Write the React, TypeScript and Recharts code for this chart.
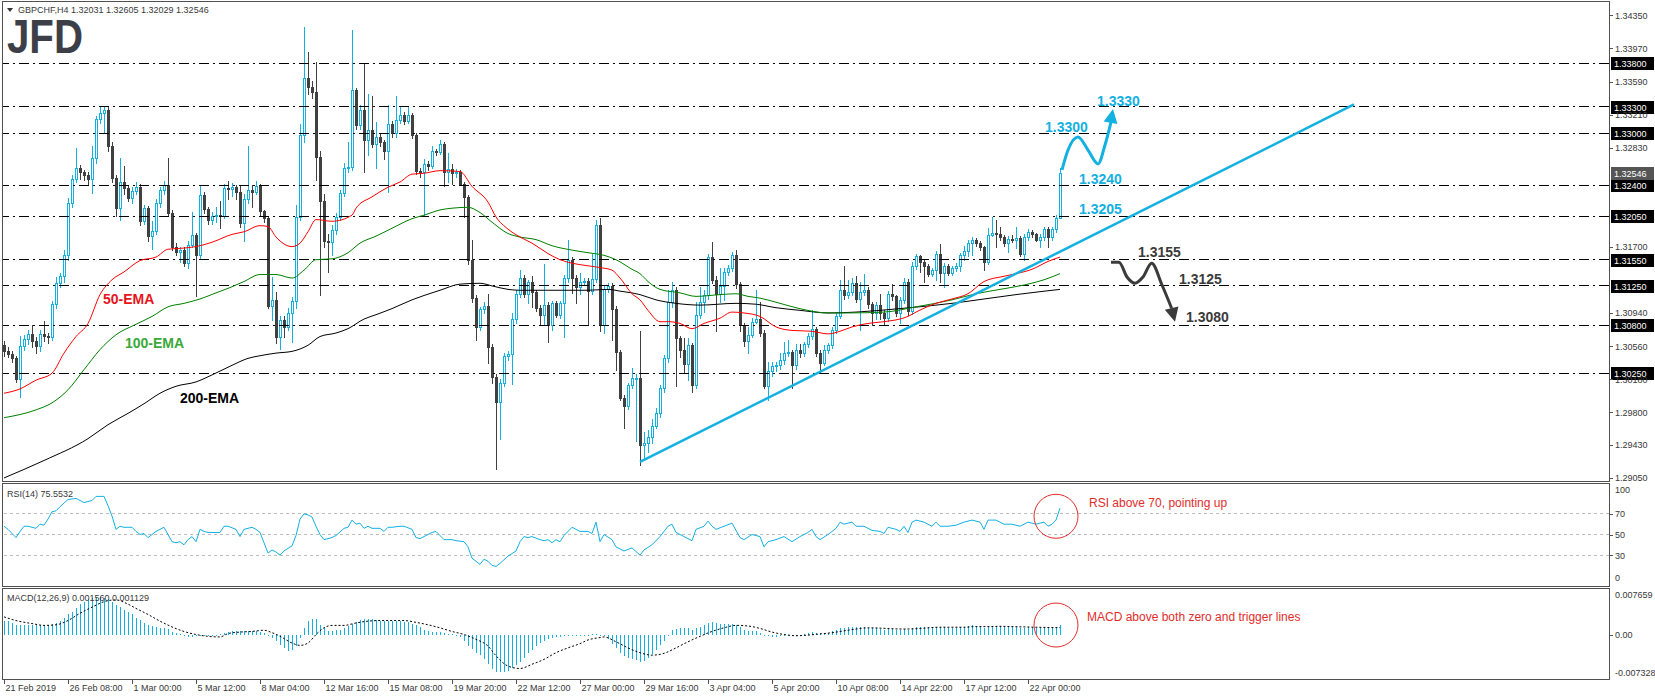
import React from "react";
import { ComposedChart, Bar, Line, XAxis, YAxis, ReferenceLine, ReferenceDot } from "recharts";

const FONT = "'Liberation Sans', Arial, sans-serif";
const CYAN = "#13b0e2";
const BEAR = "#404040";
const INK = "#383838";
const RED = "#e32b2b";

// GBPCHF H4 candles, oldest first. Open of a bar = close of the bar before it.
const firstOpen = 1.3057;
const closes = [
  1.3050, 1.3047, 1.3042, 1.3018, 1.3056, 1.3064, 1.3070, 1.3062, 1.3056, 1.3070,
  1.3068, 1.3066, 1.3104, 1.3128, 1.3136, 1.3160, 1.3220, 1.3247, 1.3260, 1.3255,
  1.3252, 1.3248, 1.3271, 1.3316, 1.3323, 1.3326, 1.3285, 1.3249, 1.3214, 1.3244,
  1.3237, 1.3226, 1.3234, 1.3238, 1.3199, 1.3214, 1.3182, 1.3188, 1.3220, 1.3235,
  1.3241, 1.3209, 1.3170, 1.3164, 1.3166, 1.3151, 1.3172, 1.3183, 1.3160, 1.3229,
  1.3213, 1.3201, 1.3205, 1.3206, 1.3205, 1.3237, 1.3236, 1.3238, 1.3232, 1.3197,
  1.3225, 1.3235, 1.3232, 1.3239, 1.3211, 1.3203, 1.3102, 1.3109, 1.3066, 1.3086,
  1.3078, 1.3094, 1.3108, 1.3204, 1.3298, 1.3363, 1.3353, 1.3347, 1.3273, 1.3222,
  1.3176, 1.3175, 1.3189, 1.3204, 1.3231, 1.3260, 1.3261, 1.3349, 1.3309, 1.3327,
  1.3292, 1.3304, 1.3288, 1.3296, 1.3290, 1.3279, 1.3310, 1.3300, 1.3315, 1.3321,
  1.3314, 1.3321, 1.3298, 1.3257, 1.3255, 1.3265, 1.3262, 1.3279, 1.3278, 1.3288,
  1.3256, 1.3259, 1.3254, 1.3256, 1.3242, 1.3227, 1.3155, 1.3111, 1.3078, 1.3098,
  1.3102, 1.3055, 1.3021, 1.2992, 1.3014, 1.3045, 1.3047, 1.3087, 1.3116, 1.3134,
  1.3116, 1.3129, 1.3118, 1.3100, 1.3092, 1.3103, 1.3080, 1.3105, 1.3092, 1.3105,
  1.3134, 1.3155, 1.3134, 1.3124, 1.3129, 1.3131, 1.3119, 1.3133, 1.3195, 1.3080,
  1.3121, 1.3125, 1.3099, 1.3049, 1.2997, 1.2987, 1.3011, 1.3019, 1.3020, 1.2943,
  1.2945, 1.2952, 1.2965, 1.2979, 1.3008, 1.3042, 1.3107, 1.3120, 1.3065, 1.3052,
  1.3036, 1.3057, 1.3012, 1.3092, 1.3106, 1.3114, 1.3158, 1.3132, 1.3116, 1.3125,
  1.3141, 1.3145, 1.3160, 1.3127, 1.3080, 1.3062, 1.3069, 1.3084, 1.3087, 1.3071,
  1.3010, 1.3027, 1.3033, 1.3034, 1.3040, 1.3048, 1.3049, 1.3034, 1.3052, 1.3048,
  1.3058, 1.3068, 1.3076, 1.3048, 1.3037, 1.3051, 1.3057, 1.3074, 1.3091, 1.3120,
  1.3114, 1.3118, 1.3128, 1.3110, 1.3118, 1.3120, 1.3104, 1.3094, 1.3103, 1.3094,
  1.3088, 1.3116, 1.3113, 1.3094, 1.3109, 1.3130, 1.3096, 1.3148, 1.3159, 1.3152,
  1.3148, 1.3139, 1.3143, 1.3162, 1.3140, 1.3148, 1.3140, 1.3145, 1.3148, 1.3160,
  1.3165, 1.3174, 1.3177, 1.3174, 1.3169, 1.3152, 1.3183, 1.3186, 1.3185, 1.3181,
  1.3174, 1.3179, 1.3178, 1.3180, 1.3162, 1.3181, 1.3187, 1.3185, 1.3178, 1.3181,
  1.3190, 1.3181, 1.3190, 1.32031, 1.32546,
];
const highs = [
  1.3062, 1.3055, 1.3050, 1.3045, 1.3068, 1.3069, 1.3074, 1.3080, 1.3066, 1.3074,
  1.3085, 1.3071, 1.3108, 1.3135, 1.3140, 1.3166, 1.3226, 1.3252, 1.3283, 1.3264,
  1.3258, 1.3256, 1.3285, 1.3320, 1.3330, 1.3330, 1.3330, 1.3290, 1.3252, 1.3271,
  1.3262, 1.3240, 1.3238, 1.3244, 1.3242, 1.3218, 1.3216, 1.3199, 1.3224, 1.3238,
  1.3245, 1.3271, 1.3212, 1.3174, 1.3170, 1.3170, 1.3176, 1.3210, 1.3186, 1.3240,
  1.3232, 1.3215, 1.3210, 1.3215, 1.3222, 1.3242, 1.3245, 1.3243, 1.3240, 1.3240,
  1.3230, 1.3285, 1.3240, 1.3245, 1.3242, 1.3212, 1.3205, 1.3135, 1.3118, 1.3090,
  1.3090, 1.3100, 1.3112, 1.3218, 1.3310, 1.3422, 1.3393, 1.3360, 1.3382, 1.3280,
  1.3230, 1.3185, 1.3195, 1.3208, 1.3235, 1.3266, 1.3290, 1.3418, 1.3352, 1.3332,
  1.3379, 1.3345, 1.3343, 1.3313, 1.3300, 1.3292, 1.3332, 1.3314, 1.3342, 1.3330,
  1.3324, 1.3331, 1.3323, 1.3300, 1.3260, 1.3270, 1.3268, 1.3285, 1.3282, 1.3292,
  1.3290, 1.3277, 1.3265, 1.3259, 1.3258, 1.3244, 1.3229, 1.3178, 1.3114, 1.3101,
  1.3106, 1.3116, 1.3058, 1.3024, 1.3018, 1.3048, 1.3050, 1.3094, 1.3120, 1.3143,
  1.3137, 1.3132, 1.3136, 1.3120, 1.3103, 1.3150, 1.3106, 1.3108, 1.3108, 1.3108,
  1.3137, 1.3178, 1.3158, 1.3137, 1.3140, 1.3134, 1.3134, 1.3162, 1.3200, 1.3203,
  1.3125, 1.3128, 1.3128, 1.3102, 1.3052, 1.3000, 1.3014, 1.3031, 1.3024, 1.3073,
  1.2958, 1.2960, 1.2972, 1.2985, 1.3012, 1.3046, 1.3120, 1.3130, 1.3124, 1.3068,
  1.3065, 1.3065, 1.3060, 1.3107, 1.3124, 1.3120, 1.3162, 1.3175, 1.3136, 1.3145,
  1.3145, 1.3149, 1.3164, 1.3166, 1.3130, 1.3083, 1.3078, 1.3088, 1.3120, 1.3107,
  1.3074, 1.3038, 1.3038, 1.3038, 1.3048, 1.3061, 1.3063, 1.3052, 1.3059, 1.3059,
  1.3061, 1.3071, 1.3097, 1.3078, 1.3052, 1.3057, 1.3060, 1.3078, 1.3094, 1.3132,
  1.3148, 1.3132, 1.3134, 1.3136, 1.3130, 1.3139, 1.3124, 1.3107, 1.3107, 1.3116,
  1.3097, 1.3119, 1.3127, 1.3115, 1.3112, 1.3134, 1.3133, 1.3152, 1.3162, 1.3160,
  1.3155, 1.3150, 1.3146, 1.3165, 1.3173, 1.3151, 1.3150, 1.3148, 1.3151, 1.3163,
  1.3171, 1.3177, 1.3181, 1.3180, 1.3176, 1.3171, 1.3191, 1.3204, 1.3200, 1.3192,
  1.3183, 1.3182, 1.3183, 1.3192, 1.3182, 1.3184, 1.3190, 1.3189, 1.3186, 1.3184,
  1.3193, 1.3192, 1.3193, 1.3206, 1.32605,
];
const lows = [
  1.3045, 1.3043, 1.3038, 1.3015, 1.2998, 1.3052, 1.3058, 1.3055, 1.3048, 1.3050,
  1.3062, 1.3060, 1.3063, 1.3100, 1.3124, 1.3130, 1.3155, 1.3215, 1.3244, 1.3248,
  1.3246, 1.3242, 1.3231, 1.3266, 1.3312, 1.3300, 1.3280, 1.3244, 1.3205, 1.3201,
  1.3230, 1.3222, 1.3220, 1.3230, 1.3195, 1.3196, 1.3176, 1.3167, 1.3185, 1.3215,
  1.3230, 1.3205, 1.3166, 1.3160, 1.3152, 1.3148, 1.3146, 1.3170, 1.3113, 1.3156,
  1.3208, 1.3196, 1.3196, 1.3198, 1.3191, 1.3203, 1.3225, 1.3228, 1.3225, 1.3192,
  1.3176, 1.3220, 1.3215, 1.3230, 1.3205, 1.3198, 1.3100, 1.3086, 1.3060, 1.3053,
  1.3066, 1.3075, 1.3061, 1.3100, 1.3200, 1.3290, 1.3345, 1.3340, 1.3246, 1.3115,
  1.3170, 1.3141, 1.3160, 1.3185, 1.3200, 1.3228, 1.3255, 1.3258, 1.3305, 1.3305,
  1.3256, 1.3275, 1.3284, 1.3260, 1.3285, 1.3270, 1.3233, 1.3296, 1.3296, 1.3312,
  1.3310, 1.3312, 1.3294, 1.3253, 1.3250, 1.3205, 1.3258, 1.3260, 1.3275, 1.3276,
  1.3239, 1.3244, 1.3242, 1.3250, 1.3240, 1.3204, 1.3150, 1.3107, 1.3063, 1.3075,
  1.3094, 1.3037, 1.3014, 1.2915, 1.2950, 1.3010, 1.3040, 1.3013, 1.3082, 1.3112,
  1.3112, 1.3105, 1.3101, 1.3096, 1.3080, 1.3080, 1.3061, 1.3075, 1.3089, 1.3088,
  1.3066, 1.3130, 1.3117, 1.3105, 1.3116, 1.3126, 1.3080, 1.3116, 1.3130, 1.3073,
  1.3071, 1.3118, 1.3063, 1.3029, 1.2994, 1.2962, 1.2984, 1.3008, 1.2947, 1.2920,
  1.2925, 1.2935, 1.2945, 1.2962, 1.2975, 1.3004, 1.3038, 1.3101, 1.3010, 1.3044,
  1.3025, 1.3017, 1.3004, 1.3008, 1.3088, 1.3095, 1.3110, 1.3128, 1.3073, 1.3107,
  1.3109, 1.3138, 1.3142, 1.3123, 1.3073, 1.3056, 1.3048, 1.3066, 1.3082, 1.3068,
  1.3008, 1.2994, 1.3022, 1.3028, 1.3030, 1.3036, 1.3045, 1.3008, 1.3030, 1.3044,
  1.3045, 1.3055, 1.3064, 1.3045, 1.3025, 1.3034, 1.3048, 1.3054, 1.3071, 1.3088,
  1.3110, 1.3111, 1.3114, 1.3106, 1.3075, 1.3115, 1.3100, 1.3080, 1.3087, 1.3087,
  1.3080, 1.3085, 1.3109, 1.3090, 1.3083, 1.3105, 1.3092, 1.3093, 1.3144, 1.3141,
  1.3130, 1.3136, 1.3136, 1.3132, 1.3130, 1.3124, 1.3137, 1.3137, 1.3142, 1.3142,
  1.3155, 1.3159, 1.3160, 1.3171, 1.3166, 1.3143, 1.3150, 1.3182, 1.3169, 1.3178,
  1.3171, 1.3164, 1.3175, 1.3168, 1.3159, 1.3155, 1.3178, 1.3181, 1.3176, 1.3169,
  1.3178, 1.3170, 1.3178, 1.3187, 1.32029,
];

// moving averages: [bar index, value]
const ema50: [number, number][] = [
  [0, 1.3002], [4, 1.3007], [8, 1.3017], [12, 1.3025], [15, 1.3048], [18, 1.3067], [21, 1.3082],
  [24, 1.3115], [27, 1.3132], [30, 1.3141], [34, 1.3154], [38, 1.3158], [41, 1.3167], [44, 1.3168],
  [48, 1.3170], [52, 1.3175], [57, 1.3184], [60, 1.3187], [64, 1.3194], [66, 1.3193], [68, 1.3181],
  [72, 1.3170], [74, 1.3174], [76, 1.3187], [78, 1.3201], [82, 1.3199], [87, 1.3206], [88, 1.3214],
  [92, 1.3227], [96, 1.3238], [99, 1.3244], [102, 1.3253], [105, 1.3254], [109, 1.3257], [114, 1.3256],
  [117, 1.3239], [121, 1.3221], [123, 1.3204], [126, 1.3190], [129, 1.3181], [132, 1.3174], [136, 1.3162],
  [139, 1.3155], [142, 1.3151], [146, 1.3148], [149, 1.3146], [152, 1.3143], [154, 1.3134], [157, 1.3116],
  [159, 1.3109], [161, 1.3097], [164, 1.3084], [166, 1.3084], [169, 1.3082], [172, 1.3076], [175, 1.3082],
  [179, 1.3088], [182, 1.3095], [185, 1.3094], [189, 1.3090], [193, 1.3078], [197, 1.3074], [202, 1.3073],
  [206, 1.3070], [209, 1.3073], [212, 1.3078], [216, 1.3082], [220, 1.3084], [226, 1.3090], [228, 1.3095],
  [233, 1.3105], [237, 1.3110], [241, 1.3116], [245, 1.3130], [250, 1.3136], [253, 1.3139], [257, 1.3144],
  [261, 1.3153], [264, 1.3158],
];
const ema100: [number, number][] = [
  [0, 1.2974], [8, 1.2983], [12, 1.2991], [16, 1.3006], [20, 1.3029], [24, 1.3052], [28, 1.3069],
  [33, 1.3081], [37, 1.3090], [41, 1.3101], [45, 1.3105], [49, 1.3110], [53, 1.3117], [57, 1.3124],
  [60, 1.3130], [64, 1.3138], [68, 1.3138], [72, 1.3134], [75, 1.3143], [78, 1.3155], [82, 1.3156],
  [86, 1.3163], [89, 1.3174], [93, 1.3182], [97, 1.3191], [102, 1.3202], [105, 1.3206], [109, 1.3212],
  [112, 1.3214], [116, 1.3215], [119, 1.3209], [122, 1.3198], [126, 1.3185], [129, 1.3181], [133, 1.3178],
  [137, 1.3171], [142, 1.3166], [146, 1.3163], [150, 1.3160], [153, 1.3155], [157, 1.3144], [159, 1.3139],
  [161, 1.3130], [164, 1.3121], [169, 1.3117], [173, 1.3113], [179, 1.3115], [183, 1.3116], [186, 1.3113],
  [189, 1.3111], [194, 1.3105], [198, 1.3100], [202, 1.3096], [206, 1.3094], [211, 1.3094], [220, 1.3095],
  [228, 1.3101], [237, 1.3109], [243, 1.3116], [249, 1.3121], [255, 1.3126], [260, 1.3132], [264, 1.3139],
];
const ema200: [number, number][] = [
  [0, 1.2905], [10, 1.2925], [21, 1.2950], [26, 1.2966], [31, 1.2979], [35, 1.2990], [39, 1.3002],
  [43, 1.3010], [48, 1.3015], [52, 1.3023], [57, 1.3034], [61, 1.3042], [64, 1.3045], [68, 1.3048],
  [72, 1.3050], [76, 1.3057], [79, 1.3067], [83, 1.3071], [86, 1.3076], [90, 1.3087], [93, 1.3092],
  [97, 1.3099], [102, 1.3109], [105, 1.3114], [109, 1.3120], [114, 1.3127], [119, 1.3128], [122, 1.3125],
  [126, 1.3121], [129, 1.3120], [137, 1.3120], [146, 1.3120], [151, 1.3121], [154, 1.3119], [159, 1.3115],
  [163, 1.3109], [168, 1.3105], [174, 1.3103], [183, 1.3105], [188, 1.3104], [193, 1.3100], [199, 1.3097],
  [206, 1.3094], [213, 1.3095], [224, 1.3099], [237, 1.3105], [245, 1.3110], [253, 1.3115], [264, 1.3121],
];

// RSI(14): [bar index, value]
const rsi: [number, number][] = [
  [0, 58], [1, 55], [3, 47], [4, 53], [5, 58], [6, 58], [8, 56], [9, 60], [10, 59], [11, 65], [12, 72],
  [13, 73], [14, 77], [16, 84], [18, 85], [19, 83], [20, 81], [22, 83], [23, 87], [25, 87], [26, 78],
  [27, 68], [28, 55], [29, 58], [30, 57], [32, 57], [33, 53], [34, 50], [35, 51], [36, 47], [37, 50],
  [38, 53], [40, 57], [41, 50], [42, 43], [43, 42], [44, 43], [45, 40], [46, 45], [47, 48], [48, 43],
  [49, 55], [50, 53], [51, 52], [54, 52], [55, 58], [56, 58], [58, 55], [59, 48], [60, 55], [62, 57],
  [63, 55], [64, 52], [65, 42], [66, 32], [67, 35], [68, 33], [69, 30], [70, 34], [72, 39], [73, 49],
  [74, 65], [75, 70], [76, 69], [77, 67], [78, 58], [79, 50], [80, 45], [82, 47], [83, 49], [85, 56],
  [86, 57], [87, 64], [88, 60], [89, 61], [90, 56], [91, 58], [92, 56], [94, 56], [95, 53], [96, 57],
  [97, 57], [99, 58], [100, 58], [102, 55], [103, 47], [104, 46], [105, 48], [107, 52], [108, 53],
  [110, 45], [112, 45], [113, 44], [115, 43], [116, 38], [117, 27], [118, 24], [119, 21], [120, 26],
  [121, 24], [122, 20], [123, 19], [124, 22], [126, 29], [128, 34], [129, 43], [130, 48], [131, 47],
  [132, 48], [134, 45], [135, 44], [136, 45], [137, 42], [138, 45], [139, 43], [140, 49], [142, 57],
  [143, 55], [144, 53], [146, 53], [147, 51], [148, 62], [149, 43], [150, 50], [152, 45], [153, 38],
  [155, 34], [157, 37], [159, 30], [160, 35], [162, 40], [164, 48], [166, 58], [167, 60], [168, 52],
  [170, 48], [172, 44], [173, 55], [175, 58], [176, 63], [177, 58], [178, 55], [180, 58], [182, 61],
  [183, 54], [184, 47], [185, 45], [187, 50], [189, 48], [190, 38], [191, 43], [193, 45], [195, 48],
  [197, 43], [199, 48], [201, 52], [202, 55], [203, 48], [204, 45], [206, 50], [208, 56], [209, 62],
  [210, 60], [212, 62], [213, 58], [215, 58], [217, 54], [219, 53], [220, 51], [221, 57], [223, 55],
  [224, 53], [225, 58], [226, 52], [227, 62], [228, 64], [230, 62], [232, 58], [233, 62], [234, 58],
  [236, 58], [238, 59], [240, 62], [242, 64], [244, 62], [245, 55], [246, 64], [248, 64], [250, 60],
  [252, 60], [254, 58], [256, 62], [258, 60], [260, 62], [261, 58], [262, 60], [263, 64], [264, 75.55],
];

// MACD(12,26,9) main line, one value per bar
const macdMain = [
  0.0023, 0.0022, 0.0019, 0.0016, 0.0015, 0.0015, 0.0015, 0.0015, 0.0015, 0.0015,
  0.0015, 0.0016, 0.0017, 0.0019, 0.0022, 0.0028, 0.0033, 0.0037, 0.0044, 0.0050,
  0.0054, 0.0058, 0.0060, 0.0061, 0.0062, 0.0060, 0.0058, 0.0054, 0.0049, 0.0045,
  0.0041, 0.0037, 0.0033, 0.0028, 0.0024, 0.0019, 0.0015, 0.00135, 0.0012, 0.0011,
  0.0010, 0.00085, 0.0004, 0.0002, 0.00005, -0.0002, -0.00035, -0.0004, -0.0003, -0.00015,
  -0.0001, -0.0001, -0.0001, -0.00005, 0.0001, 0.0002, 0.00045, 0.0005, 0.0005, 0.0005,
  0.0005, 0.00055, 0.0005, 0.0005, 0.0004, 0.0002, -0.0002, -0.0006, -0.0011, -0.0017,
  -0.0022, -0.0027, -0.0025, -0.0019, -0.0006, 0.0010, 0.0022, 0.00255, 0.00255, 0.0016,
  0.0010, 0.0006, 0.0006, 0.0007, 0.0008, 0.0010, 0.0014, 0.0018, 0.0021, 0.0024,
  0.0025, 0.00255, 0.0025, 0.0024, 0.0023, 0.0023, 0.0023, 0.0022, 0.0022, 0.0022,
  0.0021, 0.0020, 0.0018, 0.0015, 0.0012, 0.0008, 0.0005, 0.00045, 0.0004, 0.0004,
  0.0003, 0.00015, 0.00005, -0.0002, -0.0004, -0.0010, -0.0019, -0.0024, -0.0030, -0.0034,
  -0.0040, -0.0048, -0.0056, -0.0061, -0.0062, -0.0062, -0.0060, -0.0055, -0.0050, -0.0045,
  -0.0038, -0.0030, -0.0025, -0.0019, -0.0014, -0.0010, -0.0008, -0.0006, -0.00045, -0.00035,
  -0.0003, -0.0002, -0.0002, -0.0001, -0.00005, -0.00005, -0.00005, 0.00005, 0.00015, -0.0002,
  -0.0003, -0.0008, -0.0015, -0.0023, -0.0030, -0.0036, -0.0039, -0.0040, -0.0042, -0.0045,
  -0.0043, -0.0038, -0.0032, -0.0025, -0.0018, -0.0010, 0.0000, 0.0007, 0.0009, 0.0010,
  0.0010, 0.0010, 0.0008, 0.0010, 0.0013, 0.0015, 0.0019, 0.0020, 0.0019, 0.0018,
  0.0018, 0.0018, 0.0018, 0.0016, 0.0012, 0.0008, 0.0006, 0.0005, 0.0005, 0.0003,
  -0.0002, -0.0003, -0.0004, -0.0004, -0.0003, -0.0002, -0.0001, -0.0002, -0.0001, 0.0000,
  0.0001, 0.0002, 0.0004, 0.0003, 0.0002, 0.0002, 0.0003, 0.0005, 0.0007, 0.0010,
  0.0011, 0.0012, 0.0013, 0.0012, 0.0012, 0.0012, 0.0011, 0.0010, 0.0010, 0.0009,
  0.0008, 0.0009, 0.0009, 0.0008, 0.0008, 0.0009, 0.0008, 0.0010, 0.0012, 0.0013,
  0.0013, 0.0012, 0.0012, 0.0013, 0.0012, 0.0012, 0.0011, 0.0011, 0.0011, 0.0012,
  0.0013, 0.0014, 0.0015, 0.0014, 0.0013, 0.0011, 0.0013, 0.0014, 0.0014, 0.0014,
  0.0013, 0.0013, 0.0012, 0.0012, 0.0011, 0.0011, 0.0012, 0.0012, 0.0011, 0.0011,
  0.0011, 0.0010, 0.0011, 0.0012, 0.00156,
];
// MACD signal line: [bar index, value]
const macdSignal: [number, number][] = [
  [0, 0.0029], [3, 0.0023], [7, 0.0018], [10, 0.0015], [13, 0.0016], [16, 0.0023], [19, 0.0035],
  [22, 0.0045], [25, 0.0054], [28, 0.0057], [31, 0.0050], [33, 0.0043], [36, 0.0033], [39, 0.0022],
  [42, 0.00125], [45, 0.0005], [48, 0.0], [51, -0.0003], [54, -0.0004], [56, 0.00015], [59, 0.0004],
  [62, 0.0005], [65, 0.0007], [67, 0.0003], [69, -0.0003], [72, -0.0014], [74, -0.0018], [76, -0.0014],
  [78, 0.0], [80, 0.0011], [82, 0.0015], [85, 0.0015], [88, 0.0019], [91, 0.0022], [94, 0.0023],
  [98, 0.0023], [100, 0.0023], [103, 0.0020], [106, 0.0016], [109, 0.0011], [112, 0.0005], [115, 0.0],
  [118, -0.0008], [121, -0.0019], [123, -0.0035], [126, -0.0052], [129, -0.0056], [132, -0.0049],
  [135, -0.0041], [138, -0.0030], [141, -0.0022], [144, -0.0015], [146, -0.0009], [149, -0.0005],
  [150, -0.0004], [153, -0.0012], [156, -0.0022], [159, -0.0030], [162, -0.0034], [165, -0.0031],
  [168, -0.0022], [171, -0.0012], [174, -0.0003], [177, 0.0005], [180, 0.0011], [183, 0.0015],
  [186, 0.0014], [189, 0.0010], [192, 0.0004], [195, 0.0], [198, -0.0002], [201, -0.0001], [204, 0.0001],
  [207, 0.0003], [210, 0.0006], [213, 0.0009], [216, 0.0011], [219, 0.00105], [222, 0.00095],
  [225, 0.0009], [228, 0.00095], [231, 0.0011], [234, 0.0012], [237, 0.0012], [240, 0.0012],
  [243, 0.0013], [246, 0.0013], [249, 0.00135], [252, 0.0013], [255, 0.00125], [258, 0.0012],
  [261, 0.00115], [264, 0.001129],
];

// drawn analysis: trend line and the two scenario paths [bar index, price]
const trendLine: [number, number][] = [[159, 1.29233], [337.5, 1.33328]];
const bullPath: [number, number][] = [
  [264.5, 1.32578], [266, 1.32806], [268.5, 1.32956], [271, 1.32806], [273.5, 1.32647],
  [275.25, 1.32864], [276.75, 1.33127],
];
const bullTip: [number, number] = [277.25, 1.33277];
const bearPath: [number, number][] = [
  [276.75, 1.3152], [278.75, 1.3152], [280.75, 1.31352], [282.75, 1.3128], [284.75, 1.31352],
  [286.9, 1.31509], [289.5, 1.3126], [291.9, 1.30994],
];
const bearTip: [number, number] = [292.75, 1.3084];

const levels = [1.338, 1.333, 1.33, 1.324, 1.3205, 1.3155, 1.3125, 1.308, 1.3025];
const lastClose = 1.32546;
const priceTicks = [1.3435, 1.3397, 1.3359, 1.3321, 1.3283, 1.317, 1.3094, 1.3056, 1.3018, 1.298, 1.2943, 1.2905];
const dateLabels = [
  "21 Feb 2019", "26 Feb 08:00", "1 Mar 00:00", "5 Mar 12:00", "8 Mar 04:00", "12 Mar 16:00",
  "15 Mar 08:00", "19 Mar 20:00", "22 Mar 12:00", "27 Mar 00:00", "29 Mar 16:00", "3 Apr 04:00",
  "5 Apr 20:00", "10 Apr 08:00", "14 Apr 22:00", "17 Apr 12:00", "22 Apr 00:00",
];
const barsPerLabel = 16;

const X_DOMAIN: [number, number] = [-0.5, 401.25];
const PRICE_DOMAIN: [number, number] = [1.29015, 1.34502];
const MACD_DOMAIN: [number, number] = [-0.007328, 0.007659];

const candleRows = closes.map((c, i) => {
  const o = i === 0 ? firstOpen : closes[i - 1];
  const h = Math.max(highs[i], o, c);
  const l = Math.min(lows[i], o, c);
  return { x: i, o, c, h, l, range: [l, h] };
});
const macdRows = macdMain.map((m, i) => ({ x: i, m }));
const rows = (pts: [number, number][]) => pts.map(([x, v]) => ({ x, v }));
const dateTicks = dateLabels.map((_, i) => i * barsPerLabel);

function Candle(props: any) {
  const { x, y, width, height, payload } = props;
  if (!payload || height == null || isNaN(y)) return null;
  const top = Math.min(y, y + height);
  const bot = Math.max(y, y + height);
  const [lo, hi] = payload.range;
  const py = (v: number) => (hi > lo ? top + ((hi - v) / (hi - lo)) * (bot - top) : top);
  const cx = Math.round(x + width / 2);
  const up = payload.c >= payload.o;
  const col = up ? CYAN : BEAR;
  const b0 = Math.round(Math.min(py(payload.o), py(payload.c)));
  const b1 = Math.max(Math.round(Math.max(py(payload.o), py(payload.c))), b0 + 1);
  return (
    <g shapeRendering="crispEdges">
      <line x1={cx + 0.5} x2={cx + 0.5} y1={Math.round(top)} y2={Math.round(bot) + 1} stroke={col} />
      {up ? (
        <rect x={cx - 0.5} y={b0 + 0.5} width={2} height={Math.max(b1 - b0, 1)} fill="#fff" stroke={col} />
      ) : (
        <rect x={cx - 1} y={b0} width={3} height={b1 - b0 + 1} fill={col} />
      )}
    </g>
  );
}

function HistBar(props: any) {
  const { x, y, width, height } = props;
  if (height == null || isNaN(y)) return null;
  const t = Math.round(Math.min(y, y + height));
  const b = Math.round(Math.max(y, y + height));
  return <rect x={Math.round(x + width / 2)} y={t} width={1} height={Math.max(b - t, 1)} fill={CYAN} shapeRendering="crispEdges" />;
}

const axisText = { fontSize: 9, fill: INK, fontFamily: FONT } as const;

function PriceTick(props: any) {
  const { y, payload } = props;
  const yy = Math.round(y) + 0.5;
  return (
    <g>
      <line x1={1609} x2={1613} y1={yy} y2={yy} stroke="#555" />
      <text x={1615} y={y + 3.5} {...axisText}>{payload.value.toFixed(5)}</text>
    </g>
  );
}

function Tag({ y, text, bg }: { y: number; text: string; bg: string }) {
  const yy = Math.round(y);
  return (
    <g>
      <rect x={1611} y={yy - 6} width={43} height={13} fill={bg} />
      <text x={1614} y={yy + 4} fontSize={9} fill="#fff" fontFamily={FONT}>{text}</text>
    </g>
  );
}

function RsiTick(props: any) {
  const { y, payload } = props;
  const v = payload.value;
  const dy = v === 100 ? 10 : v === 0 ? -5 : 3.5;
  const yy = Math.round(y) + 0.5;
  return (
    <g>
      {v !== 100 && v !== 0 && <line x1={1609} x2={1613} y1={yy} y2={yy} stroke="#555" />}
      <text x={1615} y={y + dy} {...axisText}>{v}</text>
    </g>
  );
}

function MacdTick(props: any) {
  const { y, payload } = props;
  const v = payload.value;
  const dy = v > 0 ? 10 : v < 0 ? -3 : 3.5;
  const txt = v === 0 ? "0.00" : v.toFixed(6);
  const yy = Math.round(y) + 0.5;
  return (
    <g>
      {v === 0 && <line x1={1609} x2={1613} y1={yy} y2={yy} stroke="#555" />}
      <text x={1615} y={y + dy} {...axisText}>{txt}</text>
    </g>
  );
}

function DateTick(props: any) {
  const { x, y, payload } = props;
  const label = dateLabels[Math.round(payload.value / barsPerLabel)];
  const px = Math.round(x) + 0.5;
  return (
    <g>
      <line x1={px} x2={px} y1={y} y2={y + 5} stroke="#555" />
      <text x={px + 1} y={y + 12} {...axisText}>{label}</text>
    </g>
  );
}

const notes = [
  { text: "1.3330", x: 273.25, y: 1.33368, color: CYAN },
  { text: "1.3300", x: 260.25, y: 1.3307, color: CYAN },
  { text: "1.3240", x: 268.75, y: 1.32475, color: CYAN },
  { text: "1.3205", x: 268.75, y: 1.32131, color: CYAN },
  { text: "1.3155", x: 283.5, y: 1.31638, color: "#3b3b3b" },
  { text: "1.3125", x: 293.75, y: 1.31329, color: "#3b3b3b" },
  { text: "1.3080", x: 295.5, y: 1.30894, color: "#3b3b3b" },
  { text: "50-EMA", x: 24.75, y: 1.311, color: "#e8141c" },
  { text: "100-EMA", x: 30.25, y: 1.30596, color: "#3aa83a" },
  { text: "200-EMA", x: 44, y: 1.29966, color: "#000" },
];

function NoteText(color: string, text: string) {
  return (p: any) => (
    <text x={p.cx} y={p.cy + 5} fontSize={14} fontWeight="bold" fill={color} fontFamily={FONT}>{text}</text>
  );
}

function Head(color: string, angle: number) {
  return (p: any) => {
    const a = (angle * Math.PI) / 180;
    const ux = Math.cos(a), uy = Math.sin(a);
    const bx = p.cx - ux * 14, by = p.cy - uy * 14;
    const pts = [
      [p.cx, p.cy],
      [bx - uy * 7, by + ux * 7],
      [bx + uy * 7, by - ux * 7],
    ].map((q) => q.join(",")).join(" ");
    return <polygon points={pts} fill={color} />;
  };
}

function Circled(text: string, dx: number, dy: number) {
  return (p: any) => (
    <g>
      <circle cx={p.cx} cy={p.cy} r={22} fill="none" stroke={RED} strokeWidth={1} />
      <text x={p.cx + dx} y={p.cy + dy} fontSize={12} fill={RED} fontFamily={FONT}>{text}</text>
    </g>
  );
}

export default function App() {
  return (
    <div style={{ position: "absolute", left: 0, top: 0, width: 1655, height: 700, background: "#fff" }}>
      <div style={{ position: "absolute", left: 0, top: 0 }}>
        <ComposedChart width={1655} height={482} data={candleRows} margin={{ top: 2, right: 0, bottom: 1, left: 2 }}>
          <XAxis hide type="number" dataKey="x" domain={X_DOMAIN} allowDataOverflow />
          <YAxis orientation="right" type="number" domain={PRICE_DOMAIN} allowDataOverflow ticks={priceTicks}
            interval={0} width={46} tickSize={0} tickMargin={0} axisLine={false} tickLine={false} tick={<PriceTick />} />
          {levels.map((lv) => (
            <ReferenceLine key={lv} y={lv} stroke="#000" strokeDasharray="10 4 2 4" shapeRendering="crispEdges"
              label={(p: any) => <Tag y={p.viewBox.y} text={lv.toFixed(5)} bg="#000" />} />
          ))}
          <ReferenceLine y={lastClose} stroke="none"
            label={(p: any) => <Tag y={p.viewBox.y} text={lastClose.toFixed(5)} bg="#555" />} />
          <Line data={rows(ema200)} dataKey="v" type="monotone" stroke="#000" strokeWidth={1} dot={false} isAnimationActive={false} />
          <Line data={rows(ema100)} dataKey="v" type="monotone" stroke="#008000" strokeWidth={1} dot={false} isAnimationActive={false} />
          <Line data={rows(ema50)} dataKey="v" type="monotone" stroke="#ff0000" strokeWidth={1} dot={false} isAnimationActive={false} />
          <Bar dataKey="range" barSize={3} shape={Candle} isAnimationActive={false} />
          <Line data={rows(trendLine)} dataKey="v" type="linear" stroke={CYAN} strokeWidth={2.5} dot={false} isAnimationActive={false} />
          <Line data={rows(bullPath)} dataKey="v" type="monotone" stroke={CYAN} strokeWidth={3} dot={false} isAnimationActive={false} />
          <Line data={rows(bearPath)} dataKey="v" type="monotone" stroke="#3b3b3b" strokeWidth={3} dot={false} isAnimationActive={false} />
          <ReferenceDot x={bullTip[0]} y={bullTip[1]} r={1} shape={Head(CYAN, -80)} ifOverflow="visible" />
          <ReferenceDot x={bearTip[0]} y={bearTip[1]} r={1} shape={Head("#3b3b3b", 76)} ifOverflow="visible" />
          {notes.map((n) => (
            <ReferenceDot key={n.text} x={n.x} y={n.y} r={1} shape={NoteText(n.color, n.text)} ifOverflow="visible" />
          ))}
        </ComposedChart>
      </div>

      <div style={{ position: "absolute", left: 0, top: 482 }}>
        <ComposedChart width={1655} height={105} data={rows(rsi)} margin={{ top: 1, right: 0, bottom: 1, left: 2 }}>
          <XAxis hide type="number" dataKey="x" domain={X_DOMAIN} allowDataOverflow />
          <YAxis orientation="right" type="number" domain={[0, 100]} ticks={[0, 30, 50, 70, 100]} interval={0}
            width={46} tickSize={0} tickMargin={0} axisLine={false} tickLine={false} tick={<RsiTick />} />
          {[70, 50, 30].map((v) => (
            <ReferenceLine key={v} y={v} stroke="#bdbdbd" strokeDasharray="3 3" shapeRendering="crispEdges" />
          ))}
          <Line dataKey="v" type="linear" stroke={CYAN} strokeWidth={1} dot={false} isAnimationActive={false} />
          <ReferenceDot x={263} y={67.7} r={22} shape={Circled("RSI above 70, pointing up", 33, -9)} ifOverflow="visible" />
        </ComposedChart>
      </div>

      <div style={{ position: "absolute", left: 0, top: 587 }}>
        <ComposedChart width={1655} height={113} data={macdRows} margin={{ top: 1, right: 0, bottom: 0, left: 2 }}>
          <XAxis type="number" dataKey="x" domain={X_DOMAIN} allowDataOverflow ticks={dateTicks} interval={0}
            height={21} tickSize={0} tickMargin={0} axisLine={false} tickLine={false} tick={<DateTick />} />
          <YAxis orientation="right" type="number" domain={MACD_DOMAIN} allowDataOverflow ticks={[MACD_DOMAIN[1], 0, MACD_DOMAIN[0]]}
            interval={0} width={46} tickSize={0} tickMargin={0} axisLine={false} tickLine={false} tick={<MacdTick />} />
          <Bar dataKey="m" barSize={1} shape={HistBar} isAnimationActive={false} />
          <Line data={rows(macdSignal)} dataKey="v" type="monotone" stroke="#000" strokeWidth={1} strokeDasharray="2 2"
            dot={false} isAnimationActive={false} />
          <ReferenceDot x={263} y={0.00156} r={22} shape={Circled("MACD above both zero and trigger lines", 31, -4)} ifOverflow="visible" />
        </ComposedChart>
      </div>

      <svg width={1655} height={700} style={{ position: "absolute", left: 0, top: 0, pointerEvents: "none" }}>
        <g fill="none" stroke="#505050" shapeRendering="crispEdges">
          <rect x={2.5} y={1.5} width={1607} height={480} />
          <rect x={2.5} y={483.5} width={1607} height={103} />
          <rect x={2.5} y={588.5} width={1607} height={91} />
        </g>
        <polygon points="7,8 13,8 10,12" fill="#333" />
        <text x={18} y={13} {...axisText}>GBPCHF,H4  1.32031 1.32605 1.32029 1.32546</text>
        <text x={7} y={53} fontSize={49} fontWeight="bold" fill="#3c3f47" fontFamily={FONT} textLength={76}
          lengthAdjust="spacingAndGlyphs">JFD</text>
        <text x={7} y={497} {...axisText}>RSI(14) 75.5532</text>
        <text x={7} y={601} {...axisText}>MACD(12,26,9) 0.001560 0.001129</text>
      </svg>
    </div>
  );
}
